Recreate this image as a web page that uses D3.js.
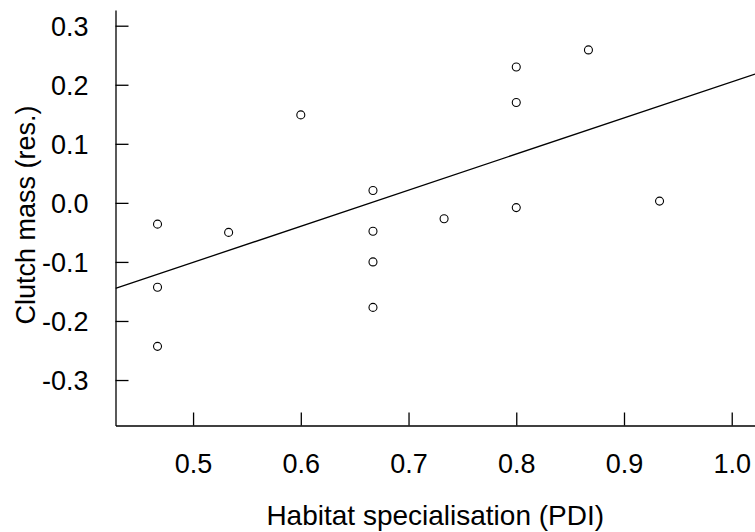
<!DOCTYPE html>
<html lang="en">
<head>
	<meta charset="UTF-8">
	<title>Clutch mass vs habitat specialisation</title>
	<script src="https://cdnjs.cloudflare.com/ajax/libs/d3/7.8.5/d3.min.js"></script>
	<style>
		html, body { margin: 0; padding: 0; background: #fff; }
		svg { display: block; font-family: "Liberation Sans", Arial, Helvetica, sans-serif; }
		.axis text { font-size: 27px; fill: #000; }
		.axis path, .axis line { stroke: #000; stroke-width: 1.3; }
	</style>
</head>
<body>
	<svg id="viz"></svg>
	<script>
		// habitat specialisation (PDI) and residual clutch mass
		const pdi = [0.467, 0.467, 0.467, 0.533, 0.600, 0.667, 0.667, 0.667, 0.667, 0.733, 0.800, 0.800, 0.800, 0.867, 0.933];
		const clutchRes = [-0.036, -0.143, -0.243, -0.050, 0.149, 0.021, -0.048, -0.100, -0.177, -0.027, 0.230, 0.170, -0.008, 0.259, 0.003];

		// fitted line (intercept, slope)
		const fitIntercept = -0.4065;
		const fitSlope = 0.6115;

		const xTicks = [0.5, 0.6, 0.7, 0.8, 0.9, 1.0];
		const xTickLabels = ['0.5', '0.6', '0.7', '0.8', '0.9', '1.0'];
		const yTicks = [-0.3, -0.2, -0.1, 0.0, 0.1, 0.2, 0.3];
		const yTickLabels = ['-0.3', '-0.2', '-0.1', '0.0', '0.1', '0.2', '0.3'];

		const xLimits = [0.428, 1.0216];
		const yLimits = [-0.377, 0.3266];

		(function () {
			const width = 755;
			const height = 532;
			const pLeft = 115.5, pRight = 755, pTop = 10, pBottom = 425.5;

			const svg = d3.select('#viz')
				.attr('width', width)
				.attr('height', height);

			const x = d3.scaleLinear().domain(xLimits).range([pLeft, pRight]);
			const y = d3.scaleLinear().domain(yLimits).range([pBottom, pTop]);

			// left axis, ticks pointing inward
			const yAxis = d3.axisLeft(y)
				.tickValues(yTicks)
				.tickFormat((d, i) => yTickLabels[i])
				.tickSizeInner(-13)
				.tickSizeOuter(0)
				.tickPadding(27);
			svg.append('g')
				.attr('class', 'axis')
				.attr('transform', `translate(${pLeft},0)`)
				.call(yAxis)
				.call(g => g.selectAll('text').attr('dy', '0.36em'));

			// bottom axis
			const xAxis = d3.axisBottom(x)
				.tickValues(xTicks)
				.tickFormat((d, i) => xTickLabels[i])
				.tickSizeInner(-13)
				.tickSizeOuter(0)
				.tickPadding(28);
			svg.append('g')
				.attr('class', 'axis')
				.attr('transform', `translate(0,${pBottom})`)
				.call(xAxis)
				.call(g => g.selectAll('text').attr('dy', '0.71em'));

			svg.append('clipPath').attr('id', 'plotclip')
				.append('rect')
				.attr('x', pLeft).attr('y', pTop)
				.attr('width', pRight - pLeft).attr('height', pBottom - pTop);

			// regression line across the plot region
			svg.append('line')
				.attr('clip-path', 'url(#plotclip)')
				.attr('x1', x(xLimits[0]))
				.attr('y1', y(fitIntercept + fitSlope * xLimits[0]))
				.attr('x2', x(xLimits[1]))
				.attr('y2', y(fitIntercept + fitSlope * xLimits[1]))
				.attr('stroke', '#000')
				.attr('stroke-width', 1.3);

			svg.append('g')
				.selectAll('circle')
				.data(pdi.map((p, i) => ({ p, c: clutchRes[i] })))
				.join('circle')
				.attr('cx', d => x(d.p))
				.attr('cy', d => y(d.c))
				.attr('r', 4)
				.attr('fill', 'none')
				.attr('stroke', '#000')
				.attr('stroke-width', 1.1);

			svg.append('text')
				.attr('x', (pLeft + pRight) / 2)
				.attr('y', 525)
				.attr('text-anchor', 'middle')
				.attr('font-size', 28)
				.text('Habitat specialisation (PDI)');

			svg.append('text')
				.attr('transform', `translate(35,215) rotate(-90)`)
				.attr('text-anchor', 'middle')
				.attr('font-size', 27)
				.text('Clutch mass (res.)');
		})();
	</script>
</body>
</html>
